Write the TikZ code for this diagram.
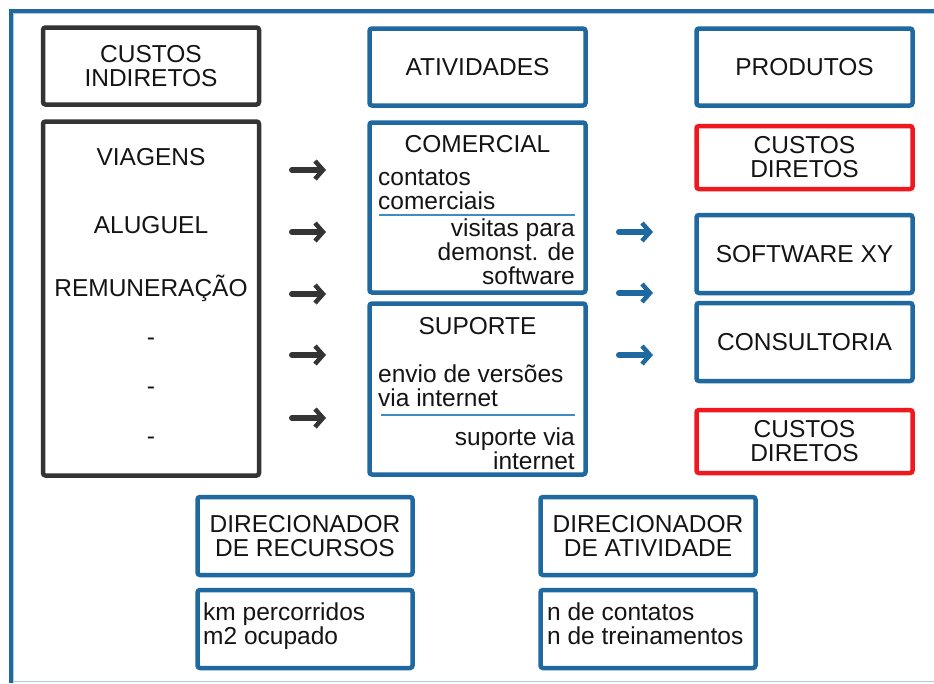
\documentclass[tikz,border=0pt]{standalone}
\usepackage{fontspec}
\setmainfont{Liberation Sans}
\usetikzlibrary{arrows.meta}
\definecolor{azul}{RGB}{31,105,160}
\definecolor{azulclaro}{RGB}{168,204,230}
\definecolor{linha}{RGB}{62,140,196}
\definecolor{cinza}{RGB}{52,52,52}
\definecolor{vermelho}{RGB}{238,24,30}
\definecolor{texto}{RGB}{20,20,20}

\begin{document}
\begin{tikzpicture}[
 caixa/.style={draw=azul,line width=4.5pt,rounded corners=2.5pt,minimum width=216pt,inner sep=0pt,
   align=center,text=texto,font=\fontsize{24.5}{24}\selectfont},
 caixacinza/.style={caixa,draw=cinza},
 caixavermelha/.style={caixa,draw=vermelho},
 rotulo/.style={inner sep=0pt,text=texto,font=\fontsize{24.5}{24}\selectfont},
 seta/.style={line width=6pt,line cap=round,-{Straight Barb[length=8pt,width=18pt,line width=4.5pt]}}
]
\begin{scope}[x=1pt,y=-1pt]
\useasboundingbox (0,0) rectangle (934,683);
% moldura
\draw[azul,line width=4.5] (11,683) -- (11,11) -- (934,11);
\draw[azulclaro,line width=1.2] (13.8,683) -- (13.8,13.8) -- (934,13.8);
\draw[azulclaro,line width=1.5] (13,681.5) -- (934,681.5);

% custos indiretos
\node[caixacinza,minimum height=77pt] (indiretos) at (151,66) {CUSTOS\\INDIRETOS};
\node[caixacinza,minimum height=354pt] (recursos) at (151,298.5) {};
\foreach \nome/\txt/\y in {viagens/VIAGENS/157,aluguel/ALUGUEL/225,remuneracao/REMUNERAÇÃO/288,
  traco1/-/342,traco2/-/391,traco3/-/441}
  \node[rotulo] (\nome) at (151,\y) {\txt};

% atividades
\node[caixa,minimum height=77pt] (atividades) at (477.5,67) {ATIVIDADES};
\node[caixa,minimum height=170pt] (comercial) at (477.5,207.5) {};
\node[rotulo] (comtit) at (477.5,144) {COMERCIAL};
\node[rotulo,align=left,anchor=west] (contatos) at (378,189.5) {contatos\\comerciais};
\draw[linha,line width=1.5] (379,215) -- (575,215);
\node[rotulo,align=right,anchor=east] (visitas) at (575,252) {visitas para\\demonst. de\\software};
\node[caixa,minimum height=171pt] (suporte) at (477.5,389) {};
\node[rotulo] (suptit) at (477.5,326) {SUPORTE};
\node[rotulo,align=left,anchor=west] (envio) at (378,385.5) {envio de versões\\via internet};
\draw[linha,line width=1.5] (381,415) -- (575,415);
\node[rotulo,align=right,anchor=east] (supvia) at (575,448.5) {suporte via\\internet};

% produtos
\node[caixa,minimum height=77pt] (produtos) at (804.5,67) {PRODUTOS};
\node[caixavermelha,minimum height=63pt] (diretos1) at (804.5,157.5) {CUSTOS\\DIRETOS};
\node[caixa,minimum height=78pt] (software) at (804.5,254) {SOFTWARE XY};
\node[caixa,minimum height=78pt] (consultoria) at (804.5,342) {CONSULTORIA};
\node[caixavermelha,minimum height=63pt] (diretos2) at (804.5,441.5) {CUSTOS\\DIRETOS};

% direcionadores
\node[caixa,minimum width=215pt,minimum height=78pt] (dirrec) at (305,536) {DIRECIONADOR\\DE RECURSOS};
\node[caixa,minimum width=215pt,minimum height=78pt] (medrec) at (305,629) {};
\node[rotulo,align=left,anchor=west] (km) at (203,626) {km percorridos\\m2 ocupado};
\node[caixa,minimum width=215pt,minimum height=78pt] (dirativ) at (648,536) {DIRECIONADOR\\DE ATIVIDADE};
\node[caixa,minimum width=215pt,minimum height=78pt] (medativ) at (648,629) {};
\node[rotulo,align=left,anchor=west] (ncont) at (547,624) {n de contatos\\n de treinamentos};

% setas
\foreach \y [count=\i] in {170,232,294,355,418}{
  \coordinate (ga\i) at (292,\y);
  \coordinate (gb\i) at (326,\y);
  \draw[seta,cinza] (ga\i) -- (gb\i);
}
\foreach \y [count=\i] in {232,293,355}{
  \coordinate (aa\i) at (619,\y);
  \coordinate (ab\i) at (653,\y);
  \draw[seta,azul] (aa\i) -- (ab\i);
}
\end{scope}
\end{tikzpicture}
\end{document}
